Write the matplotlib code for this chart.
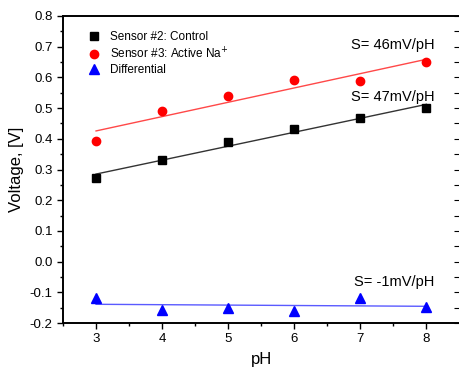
import numpy as np
from matplotlib import pyplot as plt
from matplotlib.ticker import MultipleLocator

plt.rcParams['font.family'] = ['Liberation Sans', 'DejaVu Sans']

ph = [3, 4, 5, 6, 7, 8]
control = [0.272, 0.331, 0.390, 0.432, 0.467, 0.500]
active = [0.393, 0.490, 0.540, 0.592, 0.589, 0.650]
diff = [-0.118, -0.158, -0.150, -0.160, -0.120, -0.148]
slopes = ['S= 46mV/pH', 'S= 47mV/pH', 'S= -1mV/pH']

fig = plt.figure(figsize=(4.59, 3.71), dpi=100)
ax = fig.add_axes([63/459, 48/371, 396.5/459, 307/371])

x = np.array(ph)
xf = np.array([3, 8])

# fit lines
for ys, c in [(control, '#333333'), (active, '#ff4848'), (diff, '#5a5aff')]:
    k, b = np.polyfit(x, ys, 1)
    ax.plot(xf, k * xf + b, color=c, lw=1.0, zorder=2)

ax.plot(ph, control, 's', color='black', ms=5.5, label='Sensor #2: Control', zorder=3)
ax.plot(ph, active, 'o', color='red', ms=6, label='Sensor #3: Active Na$^{+}$', zorder=3)
ax.plot(ph, diff, '^', color='blue', ms=6.5, label='Differential', zorder=3)

ax.text(8.12, 0.705, slopes[0], ha='right', va='center', fontsize=10.5)
ax.text(8.12, 0.536, slopes[1], ha='right', va='center', fontsize=10.5)
ax.text(8.12, -0.066, slopes[2], ha='right', va='center', fontsize=10.5)

ax.set_xlim(2.5, 8.5)
ax.set_ylim(-0.2, 0.8)
ax.xaxis.set_major_locator(MultipleLocator(1))
ax.xaxis.set_minor_locator(MultipleLocator(0.5))
ax.yaxis.set_major_locator(MultipleLocator(0.1))
ax.yaxis.set_minor_locator(MultipleLocator(0.05))
ax.yaxis.set_major_formatter(plt.FormatStrFormatter('%.1f'))
ax.tick_params(which='both', direction='out', labelsize=9.5, width=1)
ax.tick_params(which='major', length=4)
ax.tick_params(which='minor', length=2.5)

ax2 = ax.twinx()
ax2.set_ylim(ax.get_ylim())
ax2.yaxis.set_major_locator(MultipleLocator(0.05))
ax2.tick_params(axis='y', direction='in', length=4, labelright=False)

for a in (ax, ax2):
    for s in a.spines.values():
        s.set_linewidth(1.2)

ax.set_xlabel('pH', fontsize=12, labelpad=5)
ax.set_ylabel('Voltage, [V]', fontsize=12, labelpad=4)

ax.legend(loc='upper left', frameon=False, fontsize=8.5, handletextpad=0.7,
          borderaxespad=0.5, handlelength=1.4, labelspacing=0.25, bbox_to_anchor=(0.03, 0.985))

fig.savefig('out.png', dpi=100)
